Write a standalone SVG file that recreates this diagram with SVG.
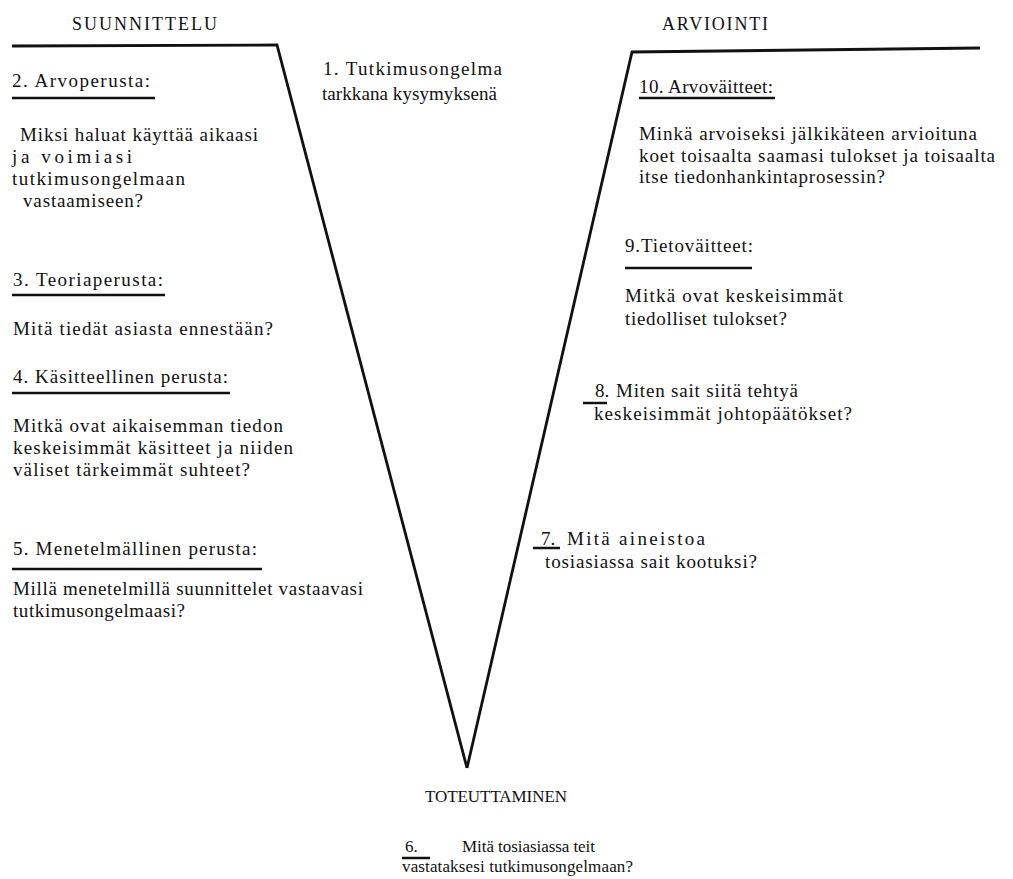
<svg xmlns="http://www.w3.org/2000/svg" width="1013" height="879" viewBox="0 0 1013 879">
  <style>
    text { font-family: "Liberation Serif", "Times New Roman", serif; font-size: 19px; fill: #111; }
    .head { font-size: 18px; }
    .small { font-size: 17px; }
    .rule { stroke: #111; stroke-width: 2.5; fill: none; }
    .frame { stroke: #111; stroke-width: 2.8; fill: none; stroke-linejoin: miter; }
  </style>
  <rect width="1013" height="879" fill="#fff"/>

  <!-- V-shaped frame: planning arm on the left, evaluation arm on the right -->
  <g id="frame">
    <polyline class="frame" points="12,46 277,45 467,768"/>
    <polyline class="frame" points="467,768 632,52 980,48"/>
  </g>

  <!-- phase headings -->
  <g id="phase-suunnittelu">
    <text class="head" x="72" y="30" textLength="145" lengthAdjust="spacing">SUUNNITTELU</text>
  </g>
  <g id="phase-arviointi">
    <text class="head" x="662" y="30" textLength="106" lengthAdjust="spacing">ARVIOINTI</text>
  </g>
  <g id="phase-toteuttaminen">
    <text class="small" x="425" y="802" textLength="142" lengthAdjust="spacing">TOTEUTTAMINEN</text>
  </g>

  <!-- 1: research problem -->
  <g id="step-1">
    <text x="323" y="75" textLength="179" lengthAdjust="spacing">1. Tutkimusongelma</text>
    <text x="322" y="100" textLength="175" lengthAdjust="spacing">tarkkana kysymyksenä</text>
  </g>

  <!-- 2: value basis -->
  <g id="step-2">
    <text x="12" y="87" textLength="138" lengthAdjust="spacing">2. Arvoperusta:</text>
    <line class="rule" x1="12" y1="98" x2="155" y2="98"/>
    <text x="20" y="141" textLength="238" lengthAdjust="spacing">Miksi haluat käyttää aikaasi</text>
    <text x="12" y="163" textLength="120" lengthAdjust="spacing">ja voimiasi</text>
    <text x="12" y="185" textLength="173" lengthAdjust="spacing">tutkimusongelmaan</text>
    <text x="23" y="207" textLength="120" lengthAdjust="spacing">vastaamiseen?</text>
  </g>

  <!-- 3: theory basis -->
  <g id="step-3">
    <text x="13" y="286" textLength="150" lengthAdjust="spacing">3. Teoriaperusta:</text>
    <line class="rule" x1="12" y1="295" x2="165" y2="295"/>
    <text x="13" y="335" textLength="260" lengthAdjust="spacing">Mitä tiedät asiasta ennestään?</text>
  </g>

  <!-- 4: conceptual basis -->
  <g id="step-4">
    <text x="13" y="383" textLength="215" lengthAdjust="spacing">4. Käsitteellinen perusta:</text>
    <line class="rule" x1="12" y1="393" x2="230" y2="393"/>
    <text x="13" y="432" textLength="270" lengthAdjust="spacing">Mitkä ovat aikaisemman tiedon</text>
    <text x="13" y="454" textLength="280" lengthAdjust="spacing">keskeisimmät  käsitteet ja niiden</text>
    <text x="13" y="476" textLength="237" lengthAdjust="spacing">väliset tärkeimmät suhteet?</text>
  </g>

  <!-- 5: methodological basis -->
  <g id="step-5">
    <text x="13" y="555" textLength="244" lengthAdjust="spacing">5. Menetelmällinen perusta:</text>
    <line class="rule" x1="12" y1="569" x2="262" y2="569"/>
    <text x="13" y="595" textLength="350" lengthAdjust="spacing">Millä menetelmillä suunnittelet vastaavasi</text>
    <text x="13" y="617" textLength="172" lengthAdjust="spacing">tutkimusongelmaasi?</text>
  </g>

  <!-- 6: implementation -->
  <g id="step-6">
    <text class="small" x="405" y="852">6.</text>
    <line class="rule" x1="402" y1="858" x2="430" y2="858"/>
    <text class="small" x="462" y="852" textLength="133" lengthAdjust="spacing">Mitä tosiasiassa teit</text>
    <text class="small" x="402" y="872" textLength="231" lengthAdjust="spacing">vastataksesi tutkimusongelmaan?</text>
  </g>

  <!-- 7: collected data -->
  <g id="step-7">
    <text x="541" y="545">7.</text>
    <line class="rule" x1="533" y1="548" x2="560" y2="548"/>
    <text x="567" y="545" textLength="138" lengthAdjust="spacing">Mitä aineistoa</text>
    <text x="545" y="568" textLength="212" lengthAdjust="spacing">tosiasiassa sait kootuksi?</text>
  </g>

  <!-- 8: conclusions -->
  <g id="step-8">
    <text x="595" y="397">8.</text>
    <line class="rule" x1="583" y1="403" x2="607" y2="403"/>
    <text x="616" y="397" textLength="182" lengthAdjust="spacing">Miten sait siitä tehtyä</text>
    <text x="594" y="420" textLength="258" lengthAdjust="spacing">keskeisimmät johtopäätökset?</text>
  </g>

  <!-- 9: knowledge claims -->
  <g id="step-9">
    <text x="625" y="252" textLength="128" lengthAdjust="spacing">9.Tietoväitteet:</text>
    <line class="rule" x1="625" y1="268" x2="752" y2="268"/>
    <text x="625" y="302" textLength="218" lengthAdjust="spacing">Mitkä ovat keskeisimmät</text>
    <text x="625" y="325" textLength="162" lengthAdjust="spacing">tiedolliset tulokset?</text>
  </g>

  <!-- 10: value claims -->
  <g id="step-10">
    <text x="639" y="93" textLength="134" lengthAdjust="spacing">10. Arvoväitteet:</text>
    <line class="rule" x1="639" y1="98" x2="775" y2="98"/>
    <text x="639" y="140" textLength="338" lengthAdjust="spacing">Minkä arvoiseksi jälkikäteen arvioituna</text>
    <text x="639" y="162" textLength="356" lengthAdjust="spacing">koet toisaalta saamasi tulokset ja toisaalta</text>
    <text x="639" y="183" textLength="246" lengthAdjust="spacing">itse tiedonhankintaprosessin?</text>
  </g>
</svg>
